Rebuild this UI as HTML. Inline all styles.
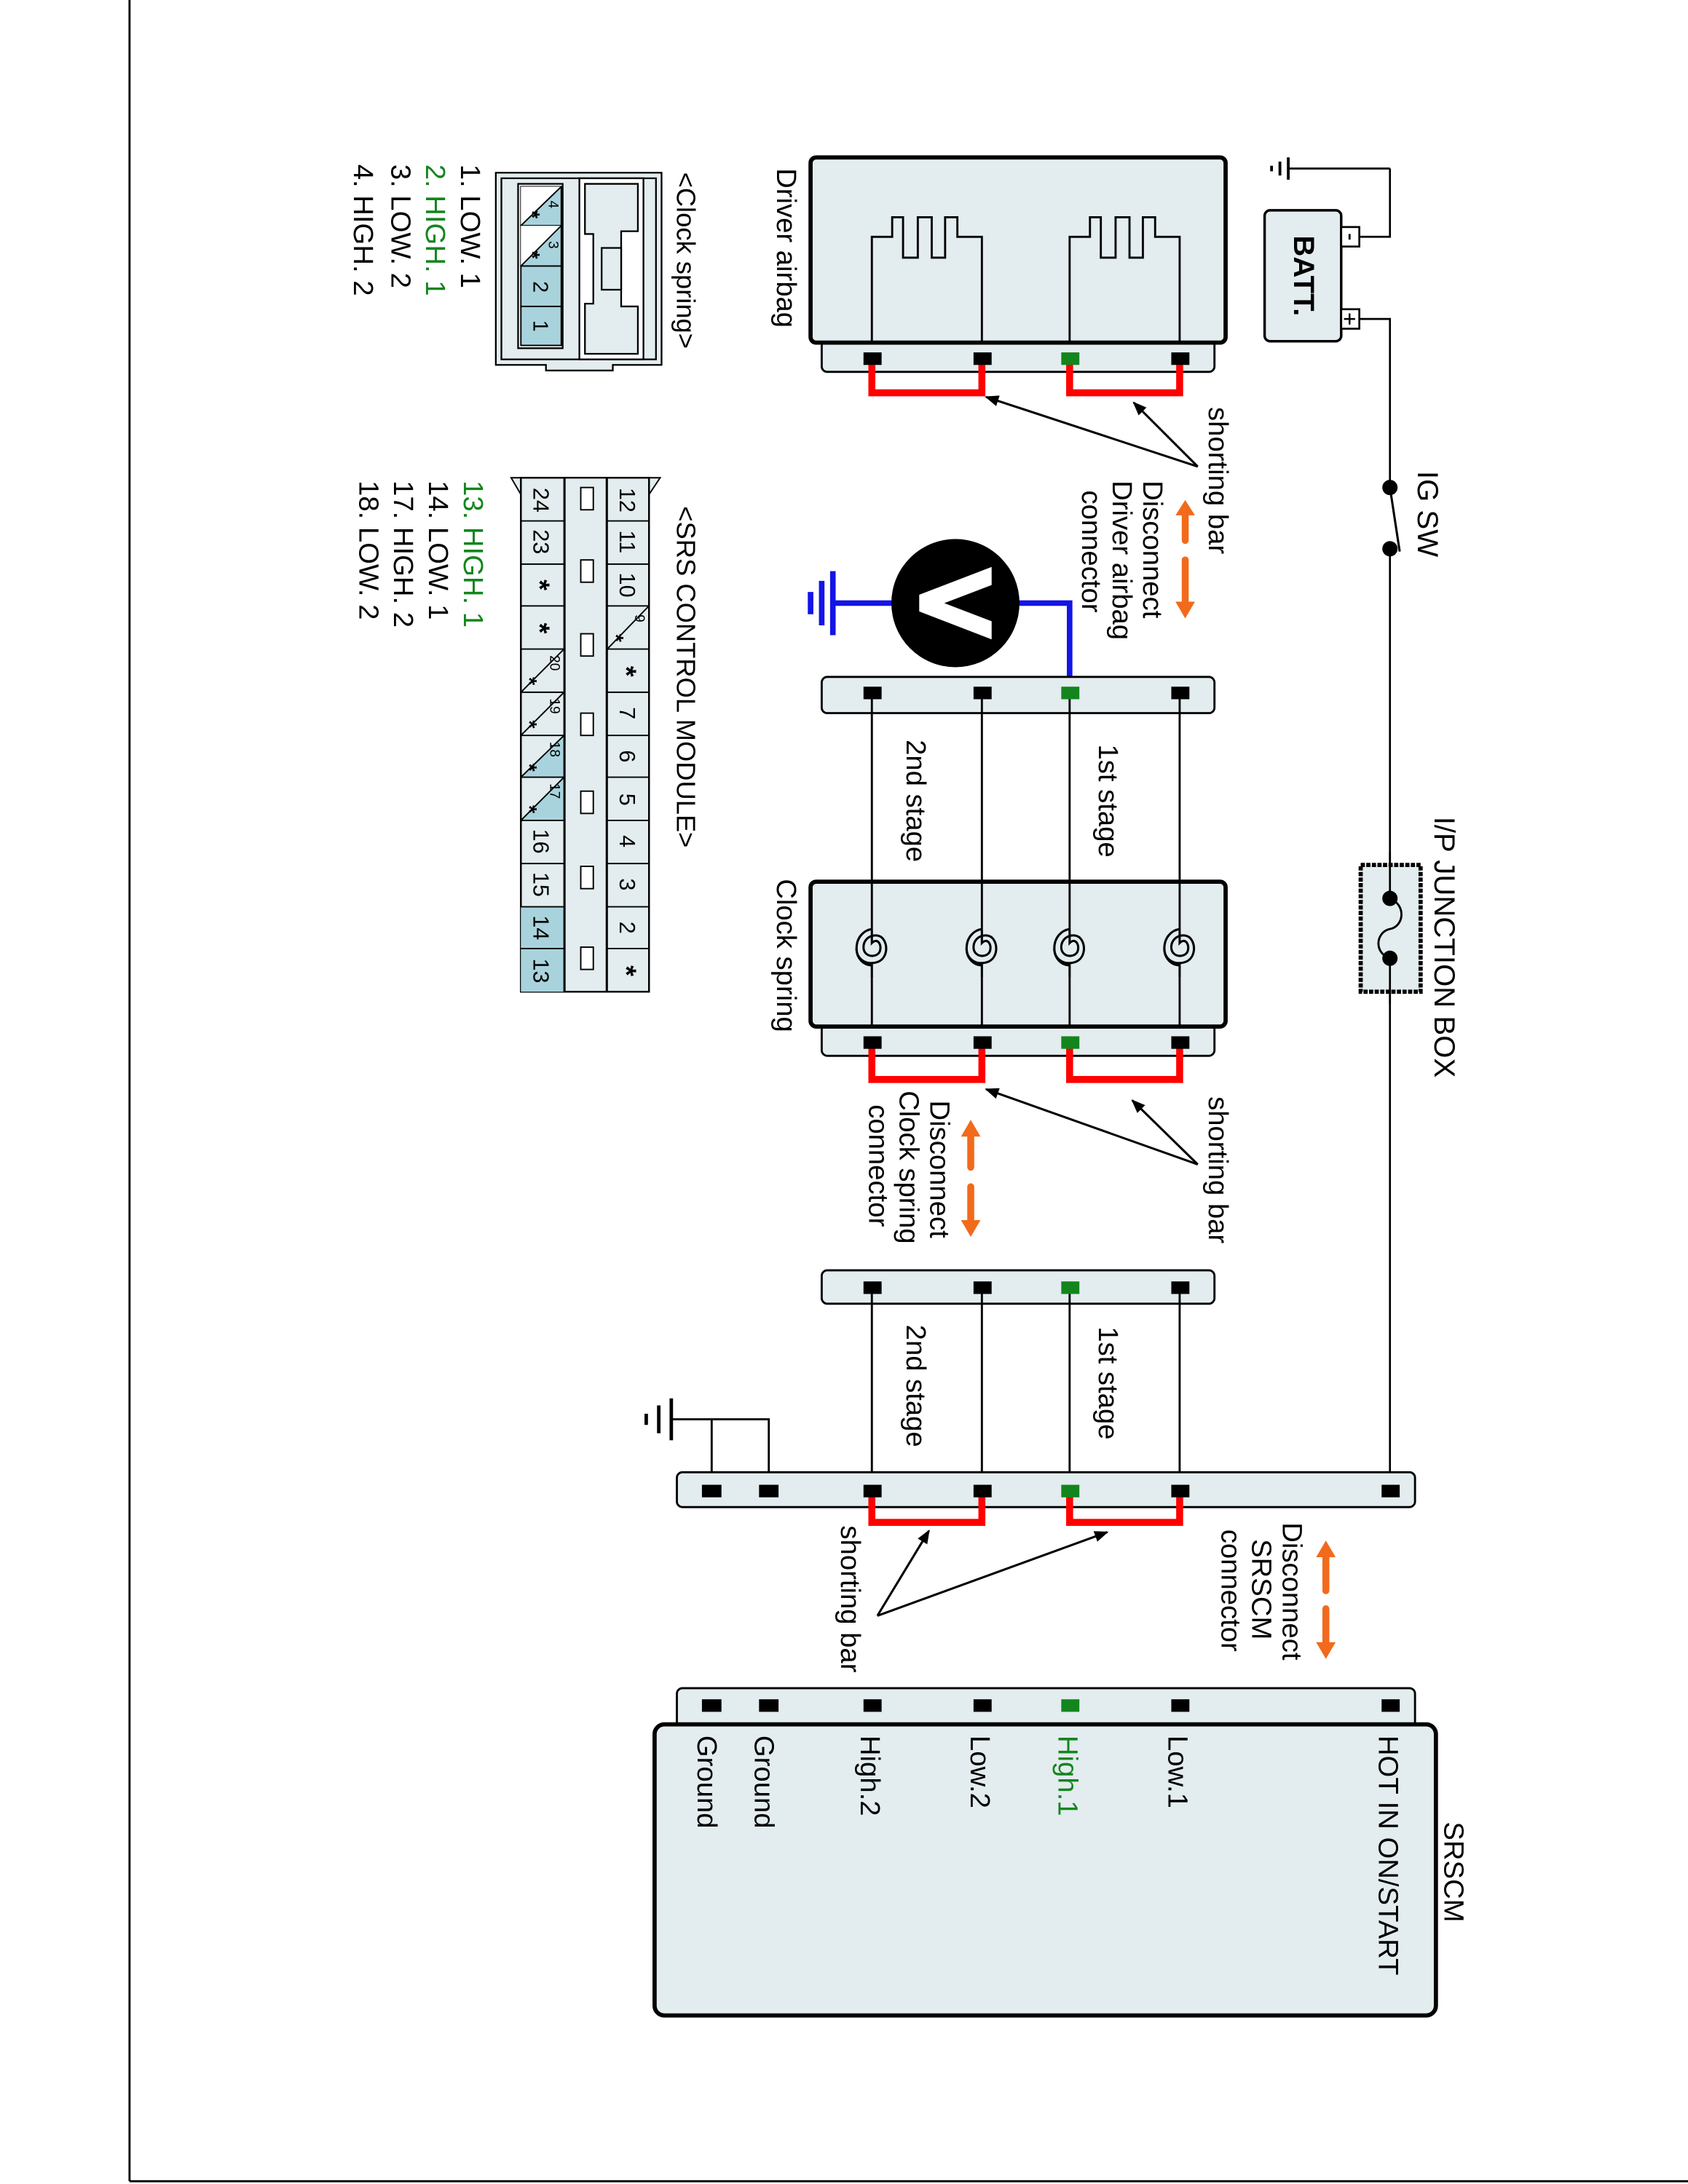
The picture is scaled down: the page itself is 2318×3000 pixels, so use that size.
<!DOCTYPE html>
<html><head><meta charset="utf-8"><style>
html,body{margin:0;padding:0;background:#fff}
svg{display:block}
text{font-family:"Liberation Sans",sans-serif;fill:#000}
</style></head><body>
<svg width="2318" height="3000" viewBox="0 0 1212 1568" preserveAspectRatio="none" xmlns="http://www.w3.org/2000/svg">
<defs>
<marker id="ah" markerWidth="10" markerHeight="8" refX="9" refY="4" orient="auto" markerUnits="userSpaceOnUse" viewBox="0 0 10 8"><path d="M0,0 L10,4 L0,8 Z" fill="#000"/></marker>
<g id="spiral" fill="none" stroke="#000" stroke-width="1.6">
<path d="M0,-12 L0,-3 C4,-7 7,-2 6,2 C5,8 -6,8 -6,0 C-6,-8 4,-11 8,-6 C12,-1 11,9 3,11 C-5,13 -11,8 -11,1 C-11,-7 -6,-12 0,-13"/>
<path d="M-11,1 C-11,8 -6,13 0,13 L0,22"/>
</g>
</defs>
<rect x="0" y="0" width="1212" height="1568" fill="#fff"/>
<line x1="93" y1="0" x2="93" y2="1566" stroke="#000" stroke-width="1.5"/>
<line x1="93" y1="1566" x2="1212" y2="1566" stroke="#000" stroke-width="1.5"/>

<!-- Battery -->
<path d="M998,121 L998,170 L975,170" fill="none" stroke="#000" stroke-width="1.4"/>
<line x1="925" y1="121" x2="998" y2="121" stroke="#000" stroke-width="1.4"/>
<line x1="925" y1="113" x2="925" y2="129" stroke="#000" stroke-width="2"/>
<line x1="919" y1="116" x2="919" y2="126" stroke="#000" stroke-width="2"/>
<line x1="913" y1="119" x2="913" y2="123" stroke="#000" stroke-width="2"/>
<rect x="908" y="151" width="55" height="94" rx="4" fill="#e3ecee" stroke="#000" stroke-width="1.8"/>
<rect x="963" y="163" width="13" height="14" fill="#fff" stroke="#000" stroke-width="1.4"/>
<rect x="963" y="222" width="13" height="14" fill="#fff" stroke="#000" stroke-width="1.4"/>
<line x1="969" y1="168" x2="969" y2="172" stroke="#000" stroke-width="1.5"/>
<line x1="969" y1="225" x2="969" y2="233" stroke="#000" stroke-width="1.3"/>
<line x1="965" y1="229" x2="973" y2="229" stroke="#000" stroke-width="1.3"/>
<text transform="translate(929,198) rotate(90)" font-size="21" font-weight="bold" text-anchor="middle">BATT.</text>
<path d="M976,229 L998,229 L998,1070" fill="none" stroke="#000" stroke-width="1.4"/>
<!-- IG SW -->
<rect x="990" y="352" width="16" height="40" fill="#fff"/>
<circle cx="998" cy="350" r="5.5" fill="#000"/>
<circle cx="998" cy="394" r="5.5" fill="#000"/>
<line x1="998" y1="350" x2="1005" y2="396" stroke="#000" stroke-width="1.6"/>
<text transform="translate(1018,369) rotate(90)" font-size="21" text-anchor="middle">IG SW</text>
<!-- Fuse box -->
<rect x="977" y="621" width="43" height="91" fill="#e3ecee" stroke="#000" stroke-width="3" stroke-dasharray="3,1"/>
<line x1="998" y1="612" x2="998" y2="721" stroke="#000" stroke-width="1.4"/>
<rect x="994" y="650" width="20" height="34" fill="#e3ecee"/>
<path d="M998,645 C1010,650 1008,665 998,667 C988,669 986,684 998,688" fill="none" stroke="#000" stroke-width="1.5"/>
<circle cx="998" cy="645" r="5.5" fill="#000"/>
<circle cx="998" cy="688" r="5.5" fill="#000"/>
<text transform="translate(1030,680) rotate(90)" font-size="21" text-anchor="middle">I/P JUNCTION BOX</text>

<!-- Driver airbag -->
<rect x="590" y="244" width="282" height="23" rx="4" fill="#e3ecee" stroke="#000" stroke-width="1.5"/>
<rect x="582" y="113" width="298" height="133" rx="4" fill="#e3ecee" stroke="#000" stroke-width="3"/>
<path d="M626,245 L626,170 L640.6,170 L640.6,156 L648.4,156 L648.4,185 L659,185 L659,156 L669,156 L669,185 L678.6,185 L678.6,156 L687.4,156 L687.4,170 L705,170 L705,245" fill="none" stroke="#000" stroke-width="1.5"/>
<path d="M768,245 L768,170 L782.6,170 L782.6,156 L790.4,156 L790.4,185 L801,185 L801,156 L811,156 L811,185 L820.6,185 L820.6,156 L829.4,156 L829.4,170 L847,170 L847,245" fill="none" stroke="#000" stroke-width="1.5"/>
<path d="M626,257 L626,282 L705,282 L705,257" fill="none" stroke="#f00" stroke-width="5"/>
<path d="M768,257 L768,282 L847,282 L847,257" fill="none" stroke="#f00" stroke-width="5"/>
<rect x="620" y="253" width="13" height="9" fill="#000"/>
<rect x="699" y="253" width="13" height="9" fill="#000"/>
<rect x="762" y="253" width="13" height="9" fill="#13851d"/>
<rect x="841" y="253" width="13" height="9" fill="#000"/>
<text transform="translate(558,178) rotate(90)" font-size="20" text-anchor="middle">Driver airbag</text>
<text transform="translate(868,345) rotate(90)" font-size="20" text-anchor="middle">shorting bar</text>
<line x1="860" y1="335" x2="708" y2="285" stroke="#000" stroke-width="1.6" marker-end="url(#ah)"/>
<line x1="860" y1="335" x2="814" y2="289" stroke="#000" stroke-width="1.6" marker-end="url(#ah)"/>
<g stroke="#f26a1b" stroke-width="5" stroke-linecap="round">
<line x1="851" y1="368" x2="851" y2="388"/><line x1="851" y1="402" x2="851" y2="432"/>
</g>
<path d="M844,370 L851,359 L858,370 Z" fill="#f26a1b"/>
<path d="M844,432 L851,444 L858,432 Z" fill="#f26a1b"/>
<text transform="translate(821,345) rotate(90)" font-size="20">Disconnect</text>
<text transform="translate(799,345) rotate(90)" font-size="20">Driver airbag</text>
<text transform="translate(777,352) rotate(90)" font-size="20">connector</text>
<!-- Voltmeter -->
<path d="M730,433 L768,433 L768,497" fill="none" stroke="#1414e6" stroke-width="4"/>
<line x1="598" y1="433" x2="642" y2="433" stroke="#1414e6" stroke-width="4"/>
<line x1="598" y1="410" x2="598" y2="456" stroke="#1414e6" stroke-width="4"/>
<line x1="590" y1="417" x2="590" y2="449" stroke="#1414e6" stroke-width="4"/>
<line x1="582" y1="425" x2="582" y2="441" stroke="#1414e6" stroke-width="4"/>
<ellipse cx="686" cy="433" rx="46" ry="46" fill="#000"/>
<path d="M712,407 L660,427 L660,439 L712,459 L712,446 L678,433 L712,420 Z" fill="#fff"/>

<!-- connector 2 -->
<rect x="590" y="486" width="282" height="26" rx="4" fill="#e3ecee" stroke="#000" stroke-width="1.5"/>
<g stroke="#000" stroke-width="1.5">
<line x1="626" y1="497" x2="626" y2="737"/><line x1="705" y1="497" x2="705" y2="737"/>
<line x1="847" y1="497" x2="847" y2="737"/><line x1="768" y1="497" x2="768" y2="634"/>
</g>
<rect x="620" y="493" width="13" height="9" fill="#000"/>
<rect x="699" y="493" width="13" height="9" fill="#000"/>
<rect x="762" y="493" width="13" height="9" fill="#13851d"/>
<rect x="841" y="493" width="13" height="9" fill="#000"/>
<text transform="translate(651,575) rotate(90)" font-size="20" text-anchor="middle">2nd stage</text>
<text transform="translate(789,575) rotate(90)" font-size="20" text-anchor="middle">1st stage</text>

<!-- Clock spring -->
<rect x="590" y="735" width="282" height="23" rx="4" fill="#e3ecee" stroke="#000" stroke-width="1.5"/>
<rect x="582" y="633" width="298" height="104" rx="4" fill="#e3ecee" stroke="#000" stroke-width="3"/>
<g stroke="#000" stroke-width="1.5">
<line x1="626" y1="633" x2="626" y2="668"/><line x1="626" y1="702" x2="626" y2="737"/>
<line x1="705" y1="633" x2="705" y2="668"/><line x1="705" y1="702" x2="705" y2="737"/>
<line x1="768" y1="633" x2="768" y2="668"/><line x1="768" y1="702" x2="768" y2="737"/>
<line x1="847" y1="633" x2="847" y2="668"/><line x1="847" y1="702" x2="847" y2="737"/>
</g>
<use href="#spiral" x="626" y="680"/><use href="#spiral" x="705" y="680"/>
<use href="#spiral" x="768" y="680"/><use href="#spiral" x="847" y="680"/>
<path d="M626,748 L626,775 L705,775 L705,748" fill="none" stroke="#f00" stroke-width="5"/>
<path d="M768,748 L768,775 L847,775 L847,748" fill="none" stroke="#f00" stroke-width="5"/>
<rect x="620" y="744" width="13" height="9" fill="#000"/>
<rect x="699" y="744" width="13" height="9" fill="#000"/>
<rect x="762" y="744" width="13" height="9" fill="#13851d"/>
<rect x="841" y="744" width="13" height="9" fill="#000"/>
<text transform="translate(558,686) rotate(90)" font-size="20" text-anchor="middle">Clock spring</text>
<text transform="translate(868,840) rotate(90)" font-size="20" text-anchor="middle">shorting bar</text>
<line x1="860" y1="836" x2="708" y2="782" stroke="#000" stroke-width="1.6" marker-end="url(#ah)"/>
<line x1="860" y1="836" x2="813" y2="790" stroke="#000" stroke-width="1.6" marker-end="url(#ah)"/>
<g stroke="#f26a1b" stroke-width="5" stroke-linecap="round">
<line x1="697" y1="815" x2="697" y2="838"/><line x1="697" y1="852" x2="697" y2="876"/>
</g>
<path d="M690,816 L697,804 L704,816 Z" fill="#f26a1b"/>
<path d="M690,876 L697,888 L704,876 Z" fill="#f26a1b"/>
<text transform="translate(668,790) rotate(90)" font-size="20">Disconnect</text>
<text transform="translate(646,783) rotate(90)" font-size="20">Clock spring</text>
<text transform="translate(624,793) rotate(90)" font-size="20">connector</text>

<!-- connector 4 -->
<rect x="590" y="912" width="282" height="24" rx="4" fill="#e3ecee" stroke="#000" stroke-width="1.5"/>
<g stroke="#000" stroke-width="1.5">
<line x1="626" y1="924" x2="626" y2="1070"/><line x1="705" y1="924" x2="705" y2="1070"/>
<line x1="768" y1="924" x2="768" y2="1070"/><line x1="847" y1="924" x2="847" y2="1070"/>
</g>
<rect x="620" y="920" width="13" height="9" fill="#000"/>
<rect x="699" y="920" width="13" height="9" fill="#000"/>
<rect x="762" y="920" width="13" height="9" fill="#13851d"/>
<rect x="841" y="920" width="13" height="9" fill="#000"/>
<text transform="translate(651,995) rotate(90)" font-size="20" text-anchor="middle">2nd stage</text>
<text transform="translate(789,993) rotate(90)" font-size="20" text-anchor="middle">1st stage</text>

<!-- SRSCM connector upper -->
<path d="M511,1070 L511,1019 L482,1019 M552,1070 L552,1019 L511,1019" fill="none" stroke="#000" stroke-width="1.5"/>
<line x1="482" y1="1004" x2="482" y2="1034" stroke="#000" stroke-width="2.5"/>
<line x1="473" y1="1009" x2="473" y2="1029" stroke="#000" stroke-width="2.5"/>
<line x1="464" y1="1015" x2="464" y2="1023" stroke="#000" stroke-width="2.5"/>
<rect x="486" y="1057" width="530" height="25" rx="4" fill="#e3ecee" stroke="#000" stroke-width="1.5"/>
<path d="M626,1070 L626,1093 L705,1093 L705,1070" fill="none" stroke="#f00" stroke-width="5"/>
<path d="M768,1070 L768,1093 L847,1093 L847,1070" fill="none" stroke="#f00" stroke-width="5"/>
<rect x="504" y="1066" width="14" height="9" fill="#000"/>
<rect x="545" y="1066" width="14" height="9" fill="#000"/>
<rect x="620" y="1066" width="13" height="9" fill="#000"/>
<rect x="699" y="1066" width="13" height="9" fill="#000"/>
<rect x="762" y="1066" width="13" height="9" fill="#13851d"/>
<rect x="841" y="1066" width="13" height="9" fill="#000"/>
<rect x="992" y="1066" width="13" height="9" fill="#000"/>
<text transform="translate(604,1148) rotate(90)" font-size="20" text-anchor="middle">shorting bar</text>
<line x1="630" y1="1160" x2="667" y2="1099" stroke="#000" stroke-width="1.6" marker-end="url(#ah)"/>
<line x1="630" y1="1160" x2="795" y2="1100" stroke="#000" stroke-width="1.6" marker-end="url(#ah)"/>
<g stroke="#f26a1b" stroke-width="5" stroke-linecap="round">
<line x1="952" y1="1117" x2="952" y2="1142"/><line x1="952" y1="1155" x2="952" y2="1179"/>
</g>
<path d="M945,1118 L952,1106 L959,1118 Z" fill="#f26a1b"/>
<path d="M945,1179 L952,1191 L959,1179 Z" fill="#f26a1b"/>
<text transform="translate(921,1093) rotate(90)" font-size="20">Disconnect</text>
<text transform="translate(899,1105) rotate(90)" font-size="20">SRSCM</text>
<text transform="translate(877,1098) rotate(90)" font-size="20">connector</text>

<!-- SRSCM -->
<rect x="486" y="1212" width="530" height="30" rx="4" fill="#e3ecee" stroke="#000" stroke-width="1.5"/>
<rect x="470" y="1238" width="561" height="209" rx="7" fill="#e3ecee" stroke="#000" stroke-width="3"/>
<rect x="504" y="1220" width="14" height="9" fill="#000"/>
<rect x="545" y="1220" width="14" height="9" fill="#000"/>
<rect x="620" y="1220" width="13" height="9" fill="#000"/>
<rect x="699" y="1220" width="13" height="9" fill="#000"/>
<rect x="762" y="1220" width="13" height="9" fill="#13851d"/>
<rect x="841" y="1220" width="13" height="9" fill="#000"/>
<rect x="992" y="1220" width="13" height="9" fill="#000"/>
<text transform="translate(501,1246) rotate(90)" font-size="20">Ground</text>
<text transform="translate(542,1246) rotate(90)" font-size="20">Ground</text>
<text transform="translate(618,1246) rotate(90)" font-size="20">High.2</text>
<text transform="translate(697,1246) rotate(90)" font-size="20">Low.2</text>
<text transform="translate(760,1246) rotate(90)" font-size="20" style="fill:#13851d">High.1</text>
<text transform="translate(839,1246) rotate(90)" font-size="20">Low.1</text>
<text transform="translate(990,1246) rotate(90)" font-size="20">HOT IN ON/START</text>
<text transform="translate(1037,1344) rotate(90)" font-size="20" text-anchor="middle">SRSCM</text>

<!-- Clock spring connector legend -->
<text transform="translate(486,187) rotate(90)" font-size="19" text-anchor="middle">&lt;Clock spring&gt;</text>
<g fill="none" stroke="#000" stroke-width="1.2">
<path d="M356,124 L475,124 L475,262 L440,262 L440,266 L392,266 L392,262 L356,262 Z" fill="#e3ecee"/>
<path d="M360,128 L471,128 L471,258 L360,258 Z"/>
<rect x="372" y="132" width="32" height="118" fill="#fff"/>
<rect x="416" y="128" width="46" height="130" fill="#fff"/>
<path d="M420,132 L458,132 L458,166 L446,166 L446,220 L458,220 L458,254 L420,254 L420,218 L426,218 L426,168 L420,168 Z" fill="#e3ecee"/>
<rect x="432" y="178" width="14" height="30" fill="#e3ecee"/>
</g>
<g stroke="#000" stroke-width="1">
<rect x="374" y="134" width="29" height="28" fill="#a9d3dc"/>
<rect x="374" y="162" width="29" height="29" fill="#a9d3dc"/>
<rect x="374" y="191" width="29" height="29" fill="#a9d3dc"/>
<rect x="374" y="220" width="29" height="28" fill="#a9d3dc"/>
<path d="M374,134 L374,162 L403,134 Z" fill="#fff" stroke="none"/>
<path d="M374,162 L374,191 L403,162 Z" fill="#fff" stroke="none"/>
<line x1="403" y1="134" x2="374" y2="162"/><line x1="403" y1="162" x2="374" y2="191"/>
</g>
<text transform="translate(394,144) rotate(90)" font-size="10">4</text>
<text transform="translate(394,173) rotate(90)" font-size="10">3</text>
<text transform="translate(377,154) rotate(90)" font-size="15" font-weight="bold" text-anchor="middle">*</text>
<text transform="translate(377,183) rotate(90)" font-size="15" font-weight="bold" text-anchor="middle">*</text>
<text transform="translate(383,206) rotate(90)" font-size="15" text-anchor="middle">2</text>
<text transform="translate(383,234) rotate(90)" font-size="15" text-anchor="middle">1</text>
<text transform="translate(331,118) rotate(90)" font-size="20">1. LOW. 1</text>
<text transform="translate(306,118) rotate(90)" font-size="20" style="fill:#13851d">2. HIGH. 1</text>
<text transform="translate(281,118) rotate(90)" font-size="20">3. LOW. 2</text>
<text transform="translate(254,118) rotate(90)" font-size="20">4. HIGH. 2</text>

<!-- SRS control module connector -->
<text transform="translate(486,486) rotate(90)" font-size="19" text-anchor="middle">&lt;SRS CONTROL MODULE&gt;</text>
<path d="M465,343 L474,343 L466,355 Z M374,343 L367,343 L374,355 Z" fill="#e3ecee" stroke="#000" stroke-width="1"/>
<rect x="374" y="343" width="92" height="369" fill="#e3ecee" stroke="#000" stroke-width="1.3"/>
<rect x="374" y="651" width="31" height="61" fill="#a9d3dc"/>
<path d="M405,528 L405,558 L374,558 Z M405,558 L405,589 L374,589 Z" fill="#a9d3dc"/>
<g stroke="#000" stroke-width="1">
<line x1="405" y1="343" x2="405" y2="712"/><line x1="436" y1="343" x2="436" y2="712"/>
<line x1="374" y1="374" x2="466" y2="374"/><line x1="374" y1="405" x2="466" y2="405"/>
<line x1="374" y1="435" x2="466" y2="435"/><line x1="374" y1="466" x2="466" y2="466"/>
<line x1="374" y1="497" x2="466" y2="497"/><line x1="374" y1="528" x2="466" y2="528"/>
<line x1="374" y1="558" x2="466" y2="558"/><line x1="374" y1="589" x2="466" y2="589"/>
<line x1="374" y1="620" x2="466" y2="620"/><line x1="374" y1="651" x2="466" y2="651"/>
<line x1="374" y1="681" x2="466" y2="681"/>
<line x1="466" y1="435" x2="436" y2="466"/>
<line x1="405" y1="466" x2="374" y2="497"/><line x1="405" y1="497" x2="374" y2="528"/>
<line x1="405" y1="528" x2="374" y2="558"/><line x1="405" y1="558" x2="374" y2="589"/>
</g>
<rect x="405.5" y="343" width="30" height="369" fill="#e3ecee" stroke="#000" stroke-width="1.2"/>
<g fill="#fff" stroke="#000" stroke-width="1">
<rect x="417" y="350" width="9" height="16"/><rect x="417" y="402" width="9" height="16"/>
<rect x="417" y="455" width="9" height="16"/><rect x="417" y="512" width="9" height="16"/>
<rect x="417" y="568" width="9" height="16"/><rect x="417" y="622" width="9" height="16"/>
<rect x="417" y="680" width="9" height="16"/>
</g>
<g font-size="16" text-anchor="middle">
<text transform="translate(445,359) rotate(90)">12</text>
<text transform="translate(445,389) rotate(90)">11</text>
<text transform="translate(445,420) rotate(90)">10</text>
<text transform="translate(445,512) rotate(90)">7</text>
<text transform="translate(445,543) rotate(90)">6</text>
<text transform="translate(445,574) rotate(90)">5</text>
<text transform="translate(445,604) rotate(90)">4</text>
<text transform="translate(445,635) rotate(90)">3</text>
<text transform="translate(445,666) rotate(90)">2</text>
<text transform="translate(383,359) rotate(90)">24</text>
<text transform="translate(383,389) rotate(90)">23</text>
<text transform="translate(383,604) rotate(90)">16</text>
<text transform="translate(383,635) rotate(90)">15</text>
<text transform="translate(383,666) rotate(90)">14</text>
<text transform="translate(383,697) rotate(90)">13</text>
</g>
<g font-size="20" font-weight="bold" text-anchor="middle">
<text transform="translate(443,482) rotate(90)">*</text>
<text transform="translate(443,697) rotate(90)">*</text>
<text transform="translate(381,420) rotate(90)">*</text>
<text transform="translate(381,451) rotate(90)">*</text>
</g>
<g font-size="15" font-weight="bold" text-anchor="middle">
<text transform="translate(437,458) rotate(90)">*</text>
<text transform="translate(375,489) rotate(90)">*</text>
<text transform="translate(375,520) rotate(90)">*</text>
<text transform="translate(375,551) rotate(90)">*</text>
<text transform="translate(375,581) rotate(90)">*</text>
</g>
<g font-size="10" text-anchor="middle">
<text transform="translate(456,444) rotate(90)">9</text>
<text transform="translate(395,476) rotate(90)">20</text>
<text transform="translate(395,507) rotate(90)">19</text>
<text transform="translate(395,538) rotate(90)">18</text>
<text transform="translate(395,568) rotate(90)">17</text>
</g>
<text transform="translate(333,345) rotate(90)" font-size="20" style="fill:#13851d">13. HIGH. 1</text>
<text transform="translate(308,345) rotate(90)" font-size="20">14. LOW. 1</text>
<text transform="translate(283,345) rotate(90)" font-size="20">17. HIGH. 2</text>
<text transform="translate(258,345) rotate(90)" font-size="20">18. LOW. 2</text>
</svg>
</body></html>
